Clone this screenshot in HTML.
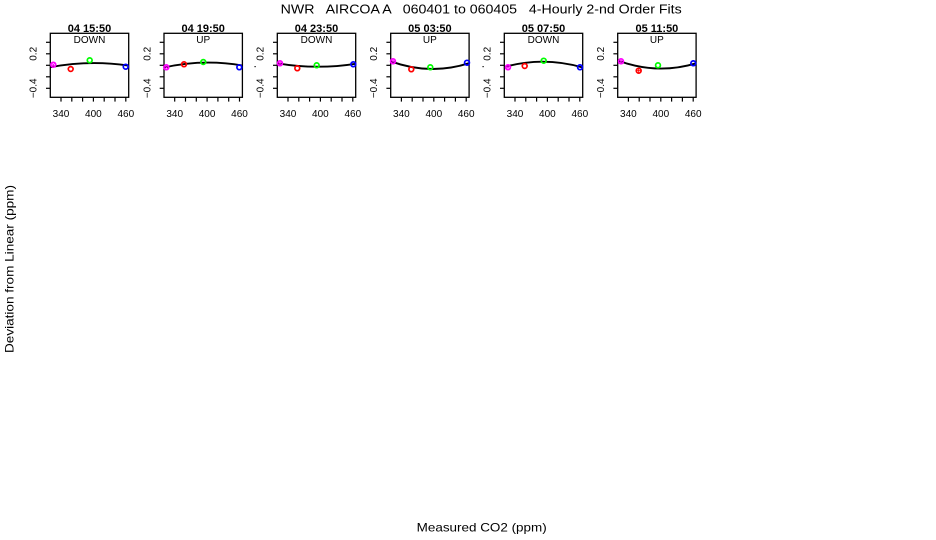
<!DOCTYPE html>
<html><head><meta charset="utf-8"><style>
html,body{margin:0;padding:0;background:#fff;}
svg{display:block;}
text{font-family:"Liberation Sans",Arial,sans-serif;fill:#000;}
</style></head><body>
<svg width="936" height="540" viewBox="0 0 936 540" xmlns="http://www.w3.org/2000/svg">
<rect width="936" height="540" fill="#fff"/>
<text x="280.7" y="13.3" font-size="12.5" style="white-space:pre" textLength="401" lengthAdjust="spacingAndGlyphs">NWR   AIRCOA A   060401 to 060405   4-Hourly 2-nd Order Fits</text>
<text transform="translate(13.3,353) rotate(-90)" font-size="12" textLength="168" lengthAdjust="spacingAndGlyphs">Deviation from Linear (ppm)</text>
<text x="416.7" y="531.5" font-size="12" textLength="130" lengthAdjust="spacingAndGlyphs">Measured CO2 (ppm)</text>
<rect x="254.5" y="66" width="1.2" height="1.2" fill="#000"/>
<rect x="482.5" y="66" width="1.2" height="1.2" fill="#000"/>

<defs>
<g id="axes">
<rect x="0" y="33.3" width="78.4" height="64" fill="none" stroke="#000" stroke-width="1.3"/>
<g stroke="#000" stroke-width="1.2">
<line x1="-4.3" y1="42.3" x2="0" y2="42.3"/>
<line x1="-4.3" y1="53.8" x2="0" y2="53.8"/>
<line x1="-4.3" y1="65.3" x2="0" y2="65.3"/>
<line x1="-4.3" y1="76.8" x2="0" y2="76.8"/>
<line x1="-4.3" y1="88.3" x2="0" y2="88.3"/>
<line x1="10.7" y1="97.3" x2="10.7" y2="101.6"/>
<line x1="21.5" y1="97.3" x2="21.5" y2="101.6"/>
<line x1="32.3" y1="97.3" x2="32.3" y2="101.6"/>
<line x1="43.1" y1="97.3" x2="43.1" y2="101.6"/>
<line x1="53.9" y1="97.3" x2="53.9" y2="101.6"/>
<line x1="64.7" y1="97.3" x2="64.7" y2="101.6"/>
<line x1="75.5" y1="97.3" x2="75.5" y2="101.6"/>
</g>
<text transform="translate(-13.6,53.8) rotate(-90)" font-size="10" text-anchor="middle">0.2</text>
<text transform="translate(-13.6,88.3) rotate(-90)" font-size="10" text-anchor="middle">−0.4</text>
<text x="10.7" y="117" font-size="10" text-anchor="middle">340</text>
<text x="43.1" y="117" font-size="10" text-anchor="middle">400</text>
<text x="75.5" y="117" font-size="10" text-anchor="middle">460</text>
</g>
</defs>

<!-- Panel 1 -->
<g transform="translate(50.3,0)">
<use href="#axes"/>
<text x="39.2" y="32" font-size="11" font-weight="bold" text-anchor="middle">04 15:50</text>
<text x="39.2" y="43" font-size="10" text-anchor="middle">DOWN</text>
<path d="M0,67.2 Q39.2,59.8 78.4,65.6" fill="none" stroke="#000" stroke-width="1.9"/>
<g fill="none" stroke-width="1.7">
<circle cx="3" cy="64.7" r="2.4" stroke="#ff00ff"/>
<path d="M1.3,63 L4.7,66.4 M4.7,63 L1.3,66.4" stroke="#ff00ff" stroke-width="0.8"/>
<circle cx="20.4" cy="69" r="2.4" stroke="#ff0000"/>
<circle cx="39.4" cy="60.3" r="2.4" stroke="#00ff00"/>
<circle cx="75.4" cy="66.7" r="2.4" stroke="#0000ff"/>
</g>
</g>

<!-- Panel 2 -->
<g transform="translate(164,0)">
<use href="#axes"/>
<text x="39.2" y="32" font-size="11" font-weight="bold" text-anchor="middle">04 19:50</text>
<text x="39.2" y="43" font-size="10" text-anchor="middle">UP</text>
<path d="M0,67.5 Q39.2,58.7 78.4,65.5" fill="none" stroke="#000" stroke-width="1.9"/>
<g fill="none" stroke-width="1.7">
<circle cx="2.3" cy="67.3" r="2.4" stroke="#ff00ff"/>
<path d="M0.6,65.6 L4,69 M4,65.6 L0.6,69" stroke="#ff00ff" stroke-width="0.8"/>
<circle cx="20" cy="64.3" r="2.4" stroke="#ff0000"/>
<circle cx="39.3" cy="62" r="2.4" stroke="#00ff00"/>
<circle cx="75.3" cy="67.3" r="2.4" stroke="#0000ff"/>
</g>
</g>

<!-- Panel 3 -->
<g transform="translate(277.3,0)">
<use href="#axes"/>
<text x="39.2" y="32" font-size="11" font-weight="bold" text-anchor="middle">04 23:50</text>
<text x="39.2" y="43" font-size="10" text-anchor="middle">DOWN</text>
<path d="M0,63.3 Q39.2,69.9 78.4,63.8" fill="none" stroke="#000" stroke-width="1.9"/>
<g fill="none" stroke-width="1.7">
<circle cx="2.7" cy="63.3" r="2.4" stroke="#ff00ff"/>
<path d="M1,61.6 L4.4,65 M4.4,61.6 L1,65" stroke="#ff00ff" stroke-width="0.8"/>
<circle cx="20" cy="68.3" r="2.4" stroke="#ff0000"/>
<circle cx="39.4" cy="65.3" r="2.4" stroke="#00ff00"/>
<circle cx="76" cy="64.3" r="2.4" stroke="#0000ff"/>
</g>
</g>

<!-- Panel 4 -->
<g transform="translate(390.7,0)">
<use href="#axes"/>
<text x="39.2" y="32" font-size="11" font-weight="bold" text-anchor="middle">05 03:50</text>
<text x="39.2" y="43" font-size="10" text-anchor="middle">UP</text>
<path d="M0,61.3 Q39.2,75.7 78.4,63.2" fill="none" stroke="#000" stroke-width="1.9"/>
<g fill="none" stroke-width="1.7">
<circle cx="2.3" cy="61.3" r="2.4" stroke="#ff00ff"/>
<path d="M0.6,59.6 L4,63 M4,59.6 L0.6,63" stroke="#ff00ff" stroke-width="0.8"/>
<circle cx="20.6" cy="69.3" r="2.4" stroke="#ff0000"/>
<circle cx="39.6" cy="67.3" r="2.4" stroke="#00ff00"/>
<circle cx="76.3" cy="62.7" r="2.4" stroke="#0000ff"/>
</g>
</g>

<!-- Panel 5 -->
<g transform="translate(504.3,0)">
<use href="#axes"/>
<text x="39.2" y="32" font-size="11" font-weight="bold" text-anchor="middle">05 07:50</text>
<text x="39.2" y="43" font-size="10" text-anchor="middle">DOWN</text>
<path d="M0,67 Q39.2,56.2 78.4,67.5" fill="none" stroke="#000" stroke-width="1.9"/>
<g fill="none" stroke-width="1.7">
<circle cx="3.7" cy="67.3" r="2.4" stroke="#ff00ff"/>
<path d="M2,65.6 L5.4,69 M5.4,65.6 L2,69" stroke="#ff00ff" stroke-width="0.8"/>
<circle cx="20.4" cy="66" r="2.4" stroke="#ff0000"/>
<circle cx="39.4" cy="60.7" r="2.4" stroke="#00ff00"/>
<circle cx="75.7" cy="67.3" r="2.4" stroke="#0000ff"/>
</g>
</g>

<!-- Panel 6 -->
<g transform="translate(617.7,0)">
<use href="#axes"/>
<text x="39.2" y="32" font-size="11" font-weight="bold" text-anchor="middle">05 11:50</text>
<text x="39.2" y="43" font-size="10" text-anchor="middle">UP</text>
<path d="M0,60.5 Q39.2,75.1 78.4,63.3" fill="none" stroke="#000" stroke-width="1.9"/>
<g fill="none" stroke-width="1.7">
<circle cx="3.3" cy="61.3" r="2.4" stroke="#ff00ff"/>
<path d="M1.6,59.6 L5,63 M5,59.6 L1.6,63" stroke="#ff00ff" stroke-width="0.8"/>
<circle cx="21" cy="70.7" r="2.4" stroke="#ff0000"/>
<path d="M21,68.5 L21,72.9 M18.8,70.7 L23.2,70.7" stroke="#ff0000" stroke-width="0.9"/>
<circle cx="40.3" cy="65.3" r="2.4" stroke="#00ff00"/>
<circle cx="75.6" cy="63.3" r="2.4" stroke="#0000ff"/>
</g>
</g>
</svg>
</body></html>
